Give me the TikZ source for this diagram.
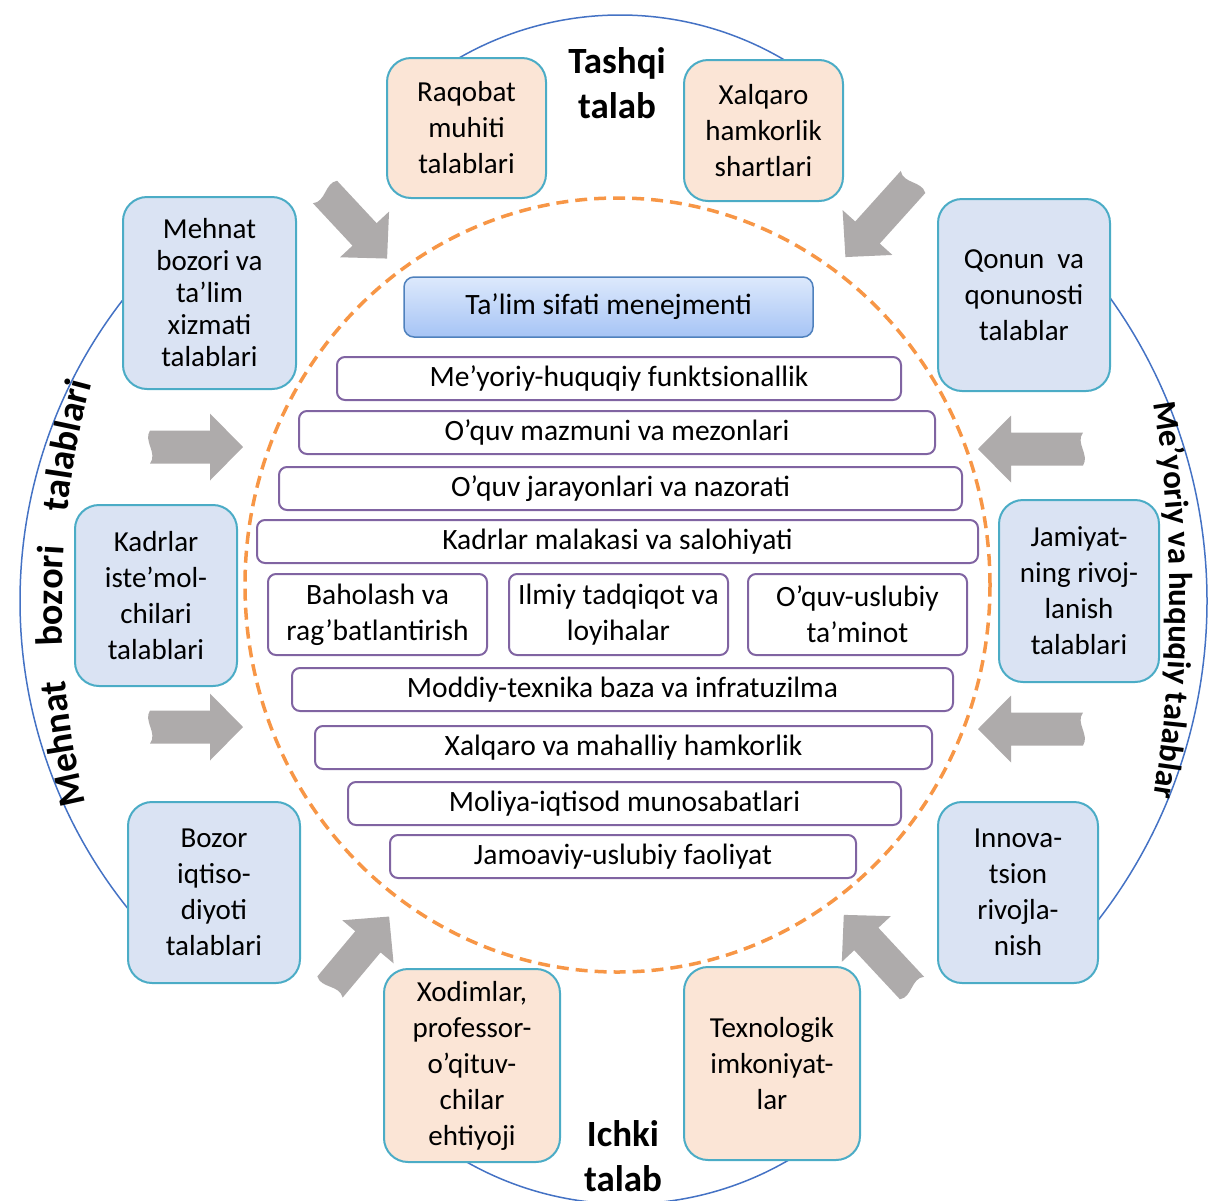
\documentclass[tikz,border=0pt]{standalone}
\usepackage{fontspec}
\setmainfont{Carlito}
\usetikzlibrary{decorations.text}

\definecolor{peach}{HTML}{FBE5D6}
\definecolor{paleblue}{HTML}{DAE3F3}
\definecolor{tealline}{HTML}{4BACC6}
\definecolor{barpurple}{HTML}{8064A2}
\definecolor{ringblue}{HTML}{4472C4}
\definecolor{dashorange}{HTML}{F79646}
\definecolor{arrowgray}{HTML}{AEABAB}
\definecolor{headtop}{HTML}{DDE9FC}
\definecolor{headbot}{HTML}{A6C4F5}
\definecolor{headline}{HTML}{4F81BD}

\begin{document}
\begin{tikzpicture}[x=1pt, y=1pt,
    reqbox/.style={draw=tealline, line width=2pt, rounded corners=24pt, align=center, inner sep=0pt, font=\fontsize{29}{36}\selectfont},
    peachbox/.style={reqbox, fill=peach},
    bluebox/.style={reqbox, fill=paleblue},
    levelbar/.style={draw=barpurple, line width=2pt, fill=white, rounded corners=8pt, minimum height=43pt, inner sep=0pt, align=center, font=\fontsize{29.5}{36}\selectfont},
    headbar/.style={draw=headline, line width=1.5pt, top color=headtop, bottom color=headbot, rounded corners=10pt, inner sep=0pt, font=\fontsize{29.5}{36}\selectfont},
    grouplabel/.style={align=center, font=\bfseries\fontsize{37}{45}\selectfont},
    arrowlen/.store in=\arrowlen, arrowlen=93,
    bigarrow/.pic={
        \fill [arrowgray] (0,-16.5) .. controls (8,-6) and (-7,6) .. (0,16.5) -- (\arrowlen-33,16.5)
            -- (\arrowlen-33,33.5) -- (\arrowlen,0) -- (\arrowlen-33,-33.5) -- (\arrowlen-33,-16.5) -- cycle;
    },
]
    \useasboundingbox (0,0) rectangle (1210,-1200);

    % outer ring
    \draw [ringblue, line width=1.5pt] (620,-338) ++(125:323) arc [start angle=125, end angle=55, radius=323];
    \draw [ringblue, line width=1.5pt] (512,-601) ++(135:492) arc [start angle=135, end angle=225, radius=492];
    \draw [ringblue, line width=1.5pt] (685,-601) ++(45:522) arc [start angle=45, end angle=-45, radius=522];
    \draw [ringblue, line width=1.5pt] (626,-881) ++(235:323) arc [start angle=235, end angle=305, radius=323];

    % inner dashed ring
    \draw [dashorange, line width=3.5pt, dash pattern=on 12pt off 7pt] (617.5,-585) ellipse [x radius=372.5, y radius=387];

    % tashqi talab
    \node [peachbox, minimum width=159pt, minimum height=140pt] (raqobat) at (466.5,-128) {Raqobat\\muhiti\\talablari};
    \node [peachbox, minimum width=159pt, minimum height=141pt] (xalqaro) at (763.5,-130.5) {Xalqaro\\hamkorlik\\shartlari};
    \node [grouplabel] (tashqi) at (617,-83) {Tashqi\\talab};

    % mehnat bozori talablari
    \node [bluebox, minimum width=173pt, minimum height=192pt, font=\fontsize{29}{32}\selectfont] (mehnat) at (209.5,-293) {Mehnat\\bozori va\\ta’lim\\xizmati\\talablari};
    \node [bluebox, minimum width=162pt, minimum height=181pt] (kadrlar) at (156,-595.5) {Kadrlar\\iste’mol-\\chilari\\talablari};
    \node [bluebox, minimum width=172pt, minimum height=181pt] (bozor) at (214,-892.5) {Bozor\\iqtiso-\\diyoti\\talablari};

    % me'yoriy va huquqiy talablar
    \node [bluebox, minimum width=172pt, minimum height=192pt] (qonun) at (1024,-295) {Qonun\ \ va\\qonunosti\\talablar};
    \node [bluebox, minimum width=160pt, minimum height=182pt] (jamiyat) at (1079,-591) {Jamiyat-\\ning rivoj-\\lanish\\talablari};
    \node [bluebox, minimum width=160pt, minimum height=181pt] (innova) at (1018,-892.5) {Innova-\\tsion\\rivojla-\\nish};

    % ichki talab
    \node [peachbox, minimum width=176pt, minimum height=193pt] (xodimlar) at (472,-1065.5) {Xodimlar,\\professor-\\o’qituv-\\chilar\\ehtiyoji};
    \node [peachbox, minimum width=176pt, minimum height=193pt] (texnologik) at (772,-1063.5) {Texnologik\\imkoniyat-\\lar};
    \node [grouplabel] (ichki) at (623,-1156) {Ichki\\talab};

    % side labels along the ring
    \path [decorate, decoration={text along path, text align=fit to path stretching spaces,
        text={|\bfseries\fontsize{38}{44}\selectfont|Mehnat bozori talablari}}]
        (912,-605) ++(193.5:850) arc [start angle=193.5, end angle=164.9, radius=850];
    \path [decorate, decoration={text along path, text align=center,
        text={|\bfseries\fontsize{33}{40}\selectfont|Me’yoriy va huquqiy talablar}}]
        (-30,-600) ++(12.5:1200) arc [start angle=12.5, end angle=-12.5, radius=1200];

    % arrows towards the centre
    \pic [rotate=-47, arrowlen=91] (arrowTL) at (325,-192) {bigarrow};
    \pic [rotate=-132, arrowlen=101] (arrowTR) at (913,-182) {bigarrow};
    \pic [arrowlen=93] (arrowL1) at (150,-447) {bigarrow};
    \pic [arrowlen=93] (arrowL2) at (150,-727) {bigarrow};
    \pic [rotate=180, arrowlen=105] (arrowR1) at (1083,-449) {bigarrow};
    \pic [rotate=180, arrowlen=105] (arrowR2) at (1083,-729) {bigarrow};
    \pic [rotate=50, arrowlen=92] (arrowBL) at (330,-987) {bigarrow};
    \pic [rotate=133, arrowlen=100] (arrowBR) at (912,-988) {bigarrow};

    % ta'lim sifati
    \node [headbar, minimum width=409pt, minimum height=60pt] (menejment) at (608.5,-307) {Ta’lim sifati menejmenti};
    \node [levelbar, minimum width=564pt] (huquqiy) at (619,-378.5) {Me’yoriy-huquqiy funktsionallik};
    \node [levelbar, minimum width=636pt] (mazmun) at (617,-432.5) {O’quv mazmuni va mezonlari};
    \node [levelbar, minimum width=683pt] (jarayon) at (620.5,-488.5) {O’quv jarayonlari va nazorati};
    \node [levelbar, minimum width=721pt] (malaka) at (617.5,-541.5) {Kadrlar malakasi va salohiyati};
    \node [levelbar, minimum width=219pt, minimum height=81pt] (baholash) at (377.5,-614.5) {Baholash va\\rag’batlantirish};
    \node [levelbar, minimum width=219pt, minimum height=81pt] (ilmiy) at (618.5,-614.5) {Ilmiy tadqiqot va\\loyihalar};
    \node [levelbar, minimum width=219pt, minimum height=81pt] (uslubiy) at (857.5,-614.5) {O’quv-uslubiy\\ta’minot};
    \node [levelbar, minimum width=661pt] (moddiy) at (622.5,-689.5) {Moddiy-texnika baza va infratuzilma};
    \node [levelbar, minimum width=617pt] (hamkorlik) at (623.5,-747.5) {Xalqaro va mahalliy hamkorlik};
    \node [levelbar, minimum width=553pt] (moliya) at (624.5,-803.5) {Moliya-iqtisod munosabatlari};
    \node [levelbar, minimum width=466pt] (jamoaviy) at (623,-856.5) {Jamoaviy-uslubiy faoliyat};
\end{tikzpicture}
\end{document}
